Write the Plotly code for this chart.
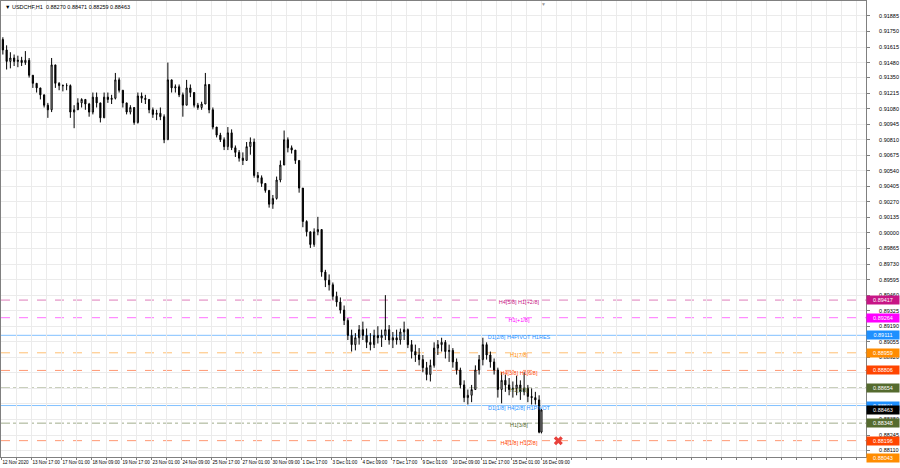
import plotly.graph_objects as go

# ---------------- data ----------------
symbol_header = "USDCHF,H1  0.88270 0.88471 0.88259 0.88463"

# candle start index in H1 bars (4-bar groups), last one = the current H1 bar
bar_index = list(range(0, 576, 4)) + [576]

highs = [0.9170, 0.9163, 0.9157, 0.9155, 0.9154, 0.9153, 0.9158, 0.9152, 0.9137, 0.9130,
         0.9126, 0.9120, 0.9113, 0.9152, 0.9146, 0.9131, 0.9129, 0.9130, 0.9129, 0.9111,
         0.9117, 0.9117, 0.9116, 0.9113, 0.9122, 0.9122, 0.9113, 0.9122, 0.9122, 0.9120,
         0.9139, 0.9135, 0.9124, 0.9113, 0.9111, 0.9109, 0.9122, 0.9122, 0.9120, 0.9116,
         0.9109, 0.9107, 0.9109, 0.9103, 0.9148, 0.9133, 0.9129, 0.9129, 0.9122, 0.9133,
         0.9129, 0.9122, 0.9113, 0.9114, 0.9139, 0.9129, 0.9109, 0.9092, 0.9087, 0.9083,
         0.9092, 0.9090, 0.9076, 0.9072, 0.9070, 0.9079, 0.9083, 0.9082, 0.9053, 0.9050,
         0.9043, 0.9037, 0.9033, 0.9049, 0.9063, 0.9089, 0.9083, 0.9076, 0.9072, 0.9063,
         0.9039, 0.9011, 0.9001, 0.9004, 0.9014, 0.9003, 0.8968, 0.8964, 0.8957, 0.8949,
         0.8944, 0.8937, 0.8926, 0.8916, 0.8913, 0.8920, 0.8923, 0.8917, 0.8913, 0.8916,
         0.8919, 0.8916, 0.8946, 0.8920, 0.8914, 0.8916, 0.8917, 0.8923, 0.8917, 0.8907,
         0.8903, 0.8900, 0.8894, 0.8888, 0.8890, 0.8905, 0.8907, 0.8909, 0.8907, 0.8903,
         0.8900, 0.8891, 0.8883, 0.8872, 0.8864, 0.8868, 0.8885, 0.8894, 0.8909, 0.8905,
         0.8897, 0.8891, 0.8883, 0.8879, 0.8877, 0.8874, 0.8871, 0.8876, 0.8872, 0.8879,
         0.8868, 0.8865, 0.8862, 0.8859, 0.88471]
lows = [0.9155, 0.9142, 0.9143, 0.9145, 0.9144, 0.9145, 0.9146, 0.9135, 0.9126, 0.9122,
        0.9116, 0.9109, 0.9100, 0.9105, 0.9126, 0.9124, 0.9123, 0.9124, 0.9100, 0.9091,
        0.9107, 0.9109, 0.9107, 0.9101, 0.9103, 0.9109, 0.9096, 0.9100, 0.9113, 0.9112,
        0.9116, 0.9122, 0.9109, 0.9103, 0.9103, 0.9094, 0.9095, 0.9113, 0.9112, 0.9104,
        0.9100, 0.9098, 0.9098, 0.9078, 0.9081, 0.9122, 0.9122, 0.9118, 0.9101, 0.9111,
        0.9118, 0.9109, 0.9107, 0.9107, 0.9112, 0.9104, 0.9090, 0.9083, 0.9079, 0.9072,
        0.9072, 0.9072, 0.9066, 0.9062, 0.9059, 0.9063, 0.9068, 0.9048, 0.9044, 0.9040,
        0.9035, 0.9022, 0.9021, 0.9029, 0.9044, 0.9059, 0.9070, 0.9069, 0.9060, 0.9035,
        0.9005, 0.8997, 0.8987, 0.8988, 0.8998, 0.8962, 0.8953, 0.8950, 0.8942, 0.8936,
        0.8930, 0.8920, 0.8907, 0.8897, 0.8898, 0.8903, 0.8907, 0.8900, 0.8898, 0.8900,
        0.8904, 0.8901, 0.8907, 0.8903, 0.8900, 0.8903, 0.8903, 0.8907, 0.8900, 0.8891,
        0.8888, 0.8885, 0.8879, 0.8872, 0.8871, 0.8883, 0.8894, 0.8897, 0.8891, 0.8888,
        0.8883, 0.8877, 0.8865, 0.8853, 0.8851, 0.8853, 0.8864, 0.8877, 0.8885, 0.8890,
        0.8883, 0.8877, 0.8857, 0.8852, 0.8862, 0.8859, 0.8857, 0.8859, 0.8855, 0.8859,
        0.8853, 0.8851, 0.8851, 0.8826, 0.88259]
closes = [0.9159, 0.9149, 0.9152, 0.9149, 0.9150, 0.9148, 0.9150, 0.9137, 0.9130, 0.9126,
          0.9120, 0.9111, 0.9107, 0.9146, 0.9130, 0.9128, 0.9128, 0.9128, 0.9105, 0.9107,
          0.9113, 0.9116, 0.9112, 0.9105, 0.9118, 0.9113, 0.9100, 0.9118, 0.9116, 0.9117,
          0.9133, 0.9124, 0.9113, 0.9105, 0.9109, 0.9096, 0.9119, 0.9117, 0.9116, 0.9107,
          0.9103, 0.9104, 0.9101, 0.9081, 0.9133, 0.9126, 0.9127, 0.9120, 0.9111, 0.9126,
          0.9122, 0.9111, 0.9109, 0.9112, 0.9129, 0.9107, 0.9092, 0.9085, 0.9081, 0.9075,
          0.9087, 0.9074, 0.9070, 0.9065, 0.9063, 0.9075, 0.9079, 0.9050, 0.9048, 0.9043,
          0.9037, 0.9025, 0.9030, 0.9046, 0.9059, 0.9081, 0.9074, 0.9072, 0.9063, 0.9039,
          0.9010, 0.9001, 0.8990, 0.9001, 0.9003, 0.8966, 0.8959, 0.8955, 0.8945, 0.8940,
          0.8933, 0.8924, 0.8911, 0.8903, 0.8909, 0.8916, 0.8911, 0.8905, 0.8903, 0.8911,
          0.8909, 0.8911, 0.8916, 0.8907, 0.8909, 0.8907, 0.8914, 0.8916, 0.8903, 0.8897,
          0.8894, 0.8890, 0.8883, 0.8877, 0.8885, 0.8900, 0.8903, 0.8905, 0.8897, 0.8898,
          0.8888, 0.8881, 0.8868, 0.8857, 0.8859, 0.8864, 0.8881, 0.8890, 0.8903, 0.8894,
          0.8888, 0.8881, 0.8864, 0.8872, 0.8868, 0.8864, 0.8865, 0.8868, 0.8862, 0.8865,
          0.8858, 0.8857, 0.8855, 0.8827, 0.88463]
opens = [0.9168, 0.9159, 0.9149, 0.9152, 0.9149, 0.9150, 0.9148, 0.9150, 0.9137, 0.9130,
         0.9126, 0.9120, 0.9111, 0.9107, 0.9146, 0.9130, 0.9128, 0.9128, 0.9128, 0.9105,
         0.9107, 0.9113, 0.9116, 0.9112, 0.9105, 0.9118, 0.9113, 0.9100, 0.9118, 0.9116,
         0.9117, 0.9133, 0.9124, 0.9113, 0.9105, 0.9109, 0.9096, 0.9119, 0.9117, 0.9116,
         0.9107, 0.9103, 0.9104, 0.9101, 0.9081, 0.9133, 0.9126, 0.9127, 0.9120, 0.9111,
         0.9126, 0.9122, 0.9111, 0.9109, 0.9112, 0.9129, 0.9107, 0.9092, 0.9085, 0.9081,
         0.9075, 0.9087, 0.9074, 0.9070, 0.9065, 0.9063, 0.9075, 0.9079, 0.9050, 0.9048,
         0.9043, 0.9037, 0.9025, 0.9030, 0.9046, 0.9059, 0.9081, 0.9074, 0.9072, 0.9063,
         0.9039, 0.9010, 0.9001, 0.8990, 0.9001, 0.9003, 0.8966, 0.8959, 0.8955, 0.8945,
         0.8940, 0.8933, 0.8924, 0.8911, 0.8903, 0.8909, 0.8916, 0.8911, 0.8905, 0.8903,
         0.8911, 0.8909, 0.8911, 0.8916, 0.8907, 0.8909, 0.8907, 0.8914, 0.8916, 0.8903,
         0.8897, 0.8894, 0.8890, 0.8883, 0.8877, 0.8885, 0.8900, 0.8903, 0.8905, 0.8897,
         0.8898, 0.8888, 0.8881, 0.8868, 0.8857, 0.8859, 0.8864, 0.8881, 0.8890, 0.8903,
         0.8894, 0.8888, 0.8881, 0.8864, 0.8872, 0.8868, 0.8864, 0.8865, 0.8868, 0.8862,
         0.8865, 0.8858, 0.8857, 0.8855, 0.88270]

x_tick_bars = [0, 32, 64, 96, 128, 160, 192, 224, 256, 288, 320, 352, 384, 416, 448, 480, 512, 544, 576]
x_tick_labels = ["12 Nov 2020", "13 Nov 17:00", "17 Nov 01:00", "18 Nov 09:00", "19 Nov 17:00",
                 "23 Nov 01:00", "24 Nov 09:00", "25 Nov 17:00", "27 Nov 01:00", "30 Nov 09:00",
                 "1 Dec 17:00", "3 Dec 01:00", "4 Dec 09:00", "7 Dec 17:00", "9 Dec 01:00",
                 "10 Dec 09:00", "11 Dec 17:00", "15 Dec 01:00", "16 Dec 09:00"]

y_tick_values = [0.91885, 0.91750, 0.91615, 0.91480, 0.91350, 0.91215, 0.91080, 0.90945,
                 0.90810, 0.90675, 0.90540, 0.90405, 0.90270, 0.90135, 0.90000, 0.89865,
                 0.89730, 0.89595, 0.89460, 0.89325, 0.89190, 0.89055, 0.88920, 0.88785,
                 0.88650, 0.88515, 0.88380, 0.88245, 0.88110]
# scale labels hidden behind the coloured price boxes in the reference
y_hidden_labels = [0.88785, 0.88650, 0.88515]

levels = [0.89417, 0.89264, 0.89111, 0.88959, 0.88806, 0.88654, 0.88501, 0.88348, 0.88196, 0.88043]
level_names = ["H4[5/8] H1[+2/8]", "H1[+1/8]", "D1[2/8] H4PIVOT H1RES", "H1[7/8]",
               "H4[3/8] H1[6/8]", "H1[5/8]", "D1[1/8] H4[2/8] H1PIVOT", "H1[3/8]",
               "H4[1/8] H1[2/8]", "H1[1/8]"]
level_colors = ["#C71585", "#FF00FF", "#1E90FF", "#FF8C00", "#FF4500",
                "#556B2F", "#1E90FF", "#556B2F", "#FF4500", "#FF8C00"]
level_dash = ["dash", "dash", "solid", "dash", "dash", "dashdot", "solid", "dashdot", "dash", "dash"]

bid_price = 0.88463
signal_bar = 594
signal_price = 0.88196
shift_marker_bar = 578

# ---------------- figure ----------------
FONT = "Liberation Sans"
YMIN, YMAX = 0.88054, 0.92015
fig = go.Figure()

label_bar = 552
vis = [i for i, lv in enumerate(levels) if YMIN < lv < YMAX]
fig.add_trace(go.Scatter(
    x=[label_bar] * len(vis), y=[levels[i] for i in vis], mode="text",
    text=[level_names[i] for i in vis], textposition="bottom center",
    textfont=dict(family=FONT, size=5.5, color=[level_colors[i] for i in vis]),
    hoverinfo="skip", showlegend=False))

fig.add_trace(go.Candlestick(
    x=[b + 1.5 if b < 576 else b for b in bar_index],
    open=opens, high=highs, low=lows, close=closes,
    increasing=dict(line=dict(color="black", width=1), fillcolor="white"),
    decreasing=dict(line=dict(color="black", width=1), fillcolor="black"),
    whiskerwidth=0, showlegend=False))

fig.add_trace(go.Scatter(
    x=[signal_bar], y=[signal_price], mode="markers",
    marker=dict(symbol="x", size=8, color="#E8413C", line=dict(width=0)),
    showlegend=False, hoverinfo="skip"))

shapes = []
for lv, col, dsh in zip(levels, level_colors, level_dash):
    shapes.append(dict(type="line", xref="paper", x0=0, x1=1, yref="y", y0=lv, y1=lv,
                       line=dict(color=col, width=1, dash=dsh), opacity=0.55, layer="below"))

def box(price, col):
    return dict(xref="paper", x=1, xanchor="left", yref="paper",
                y=(price - YMIN) / (YMAX - YMIN), yanchor="middle",
                text=f"{price:.5f}", showarrow=False, bgcolor=col,
                font=dict(family=FONT, size=5.5, color="white"),
                width=30, height=6, borderpad=1, align="center")

annotations = [box(lv, col) for lv, col in zip(levels, level_colors)]
annotations.append(box(bid_price, "black"))
annotations.append(dict(xref="paper", x=0, xanchor="left", yref="paper", y=1, yanchor="top",
                        text="\u25BC " + symbol_header, showarrow=False, xshift=2, yshift=-1,
                        font=dict(family=FONT, size=5.5, color="black")))
annotations.append(dict(xref="x", x=shift_marker_bar, xanchor="center", yref="paper", y=1,
                        yanchor="top", text="\u25BC", showarrow=False, yshift=2,
                        font=dict(family=FONT, size=5, color="#9a9a9a")))

grid_vals = list(range(0, 928, 16))
grid_text = [x_tick_labels[x_tick_bars.index(v)] if v in x_tick_bars else "" for v in grid_vals]
y_text = ["" if v in y_hidden_labels else f"{v:.5f}" for v in y_tick_values]

fig.update_layout(
    width=900, height=468, margin=dict(l=1, r=34, t=1, b=11, autoexpand=False),
    paper_bgcolor="white", plot_bgcolor="white",
    shapes=shapes, annotations=annotations, showlegend=False,
    xaxis=dict(range=[-0.5, 922.2], tickmode="array", tickvals=grid_vals, ticktext=grid_text,
               ticklabelposition="outside right", tickangle=0,
               tickfont=dict(family=FONT, size=4.6, color="black"),
               showgrid=True, gridcolor="#ebebeb", gridwidth=1, ticks="outside", ticklen=2,
               tickcolor="#808080", showline=True, linecolor="#808080", mirror=True,
               rangeslider=dict(visible=False), zeroline=False, fixedrange=True, automargin=False),
    yaxis=dict(range=[YMIN, YMAX], side="right", tickmode="array", tickvals=y_tick_values,
               ticktext=y_text,
               tickfont=dict(family=FONT, size=5.5, color="black"),
               showgrid=True, gridcolor="#ebebeb", gridwidth=1, ticks="outside", ticklen=3,
               tickcolor="#808080", ticklabelstandoff=8, showline=True, linecolor="#808080",
               mirror=True, zeroline=False, automargin=False),
)

fig.write_html("out.html", config={"displayModeBar": False},
               post_script="document.body.style.margin='0px';")
